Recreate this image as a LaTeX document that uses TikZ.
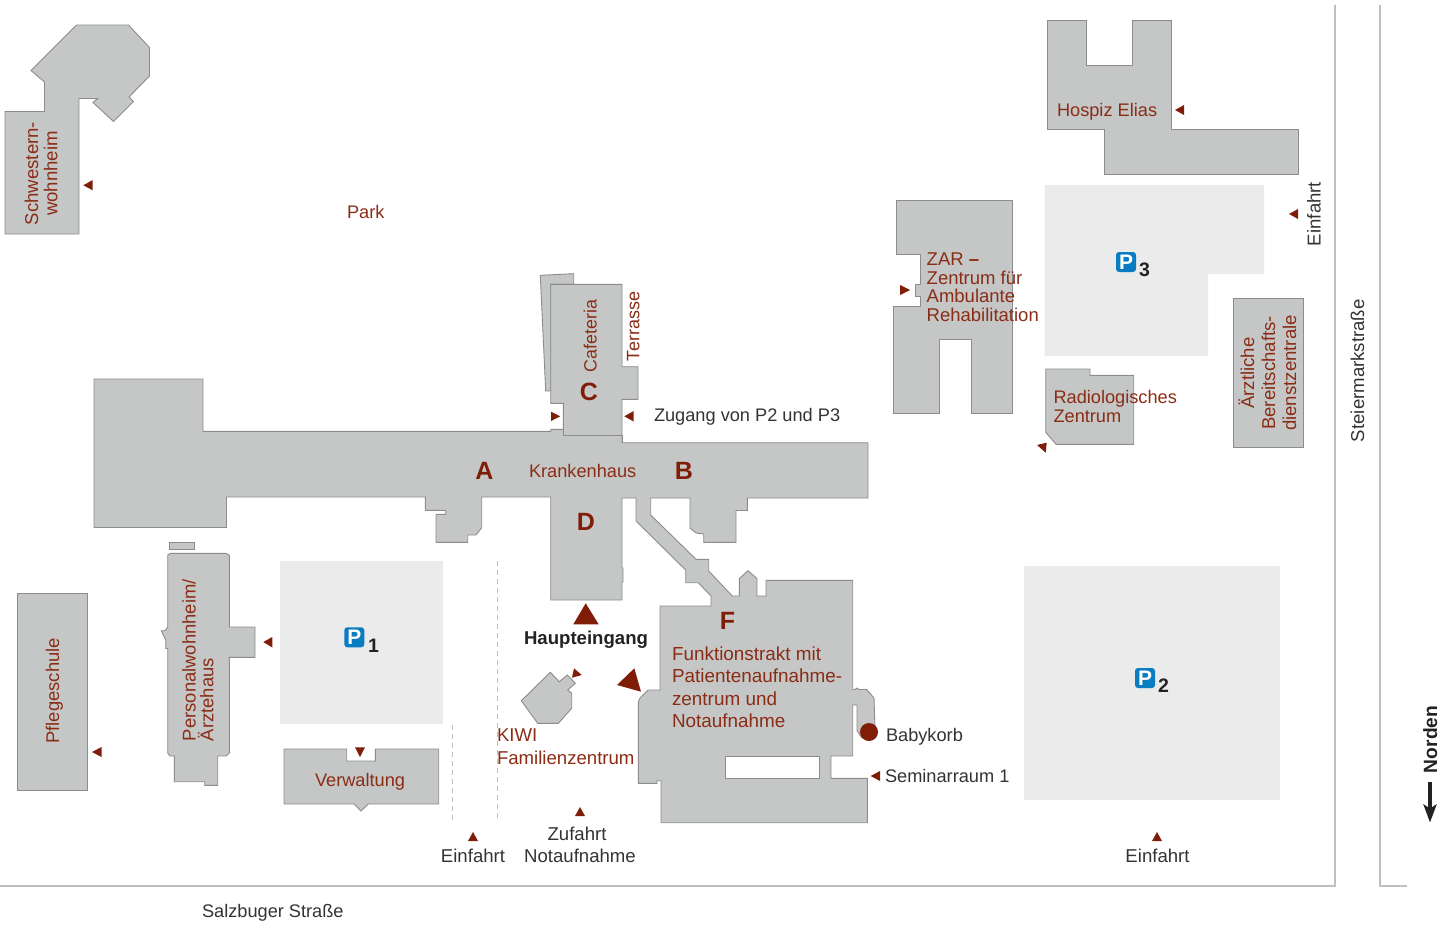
\documentclass[tikz,border=0pt]{standalone}
\usepackage{fontspec}
\setmainfont{Liberation Sans}
\usetikzlibrary{arrows.meta}
\definecolor{maroon}{HTML}{7F1D08}
\definecolor{maroontext}{HTML}{8A2C16}
\definecolor{bldgfill}{HTML}{C5C7C6}
\definecolor{bldgline}{HTML}{8C8C8C}
\definecolor{parkfill}{HTML}{EBEBEB}
\definecolor{roadline}{HTML}{BFBFBF}
\definecolor{ink}{HTML}{222222}
\definecolor{softink}{HTML}{333333}
\definecolor{pblue}{HTML}{0A7CC1}
\tikzset{
  bldg/.style={draw=bldgline,fill=bldgfill,line width=0.9pt,line join=miter},
  parking/.style={fill=parkfill,draw=none},
  pointer/.style={fill=maroon,draw=none},
  road/.style={draw=roadline,line width=2pt},
  laneline/.style={draw=roadline,line width=0.8pt,dash pattern=on 5pt off 4pt},
  txt/.style={inner sep=0pt,outer sep=0pt,anchor=base west,align=left,font=\fontsize{18.2}{18.2}\selectfont},
  redtxt/.style={txt,text=maroontext},
  blacktxt/.style={txt,text=softink},
  vert/.style={rotate=90},
  letter/.style={inner sep=0pt,text=maroon,font=\fontsize{25}{25}\selectfont\bfseries},
  picon/.style={fill=pblue,rounded corners=3pt,minimum width=20pt,minimum height=20pt,inner sep=0pt,text=white,font=\fontsize{21}{21}\selectfont\bfseries},
  pnum/.style={inner sep=0pt,anchor=base west,text=ink,font=\fontsize{19.5}{19.5}\selectfont\bfseries},
}
\begin{document}
\begin{tikzpicture}[x=1pt,y=-1pt]
\useasboundingbox (0,0) rectangle (1453,924);
% parking areas
\fill[parking] (279.7,561) rectangle (443.3,724);
\fill[parking] (1024,566) rectangle (1280,800);
\fill[parking] (1044.5,185) -- (1264,185) -- (1264,274) -- (1208,274) -- (1208,356) -- (1044.5,356) -- cycle;
% roads
\draw[road] (0,886) -- (1335,886) -- (1335,5);
\draw[road] (1380,5) -- (1380,886) -- (1407,886);
\draw[laneline] (452,725) -- (452,822);
\draw[laneline] (497,561) -- (497,822);
% buildings
\draw[bldg] (5,111.5) -- (44.5,111.5) -- (44.5,82) -- (31,70.5) -- (76.5,25) -- (128.5,25) -- (149.5,47.5) -- (149.5,76) -- (129,97) -- (133.5,101.5) -- (113.5,121.5) -- (93,102.5) -- (97.5,98.5) -- (79,98.5) -- (79,234) -- (5,234) -- cycle;
\draw[bldg] (540.3,275.3) -- (573.7,273.7) -- (573.7,284.3) -- (550.7,284.3) -- (550.7,391) -- (545.7,391) -- cycle;
\draw[bldg] (94,379) -- (203,379) -- (203,431.3) -- (550.7,431.3) -- (550.7,429.3) -- (563.3,429.3) -- (563.3,403.3) -- (550.7,403.3) -- (550.7,284.3) -- (622,284.3) -- (622,366.7) -- (638,366.7) -- (638,399.3) -- (622,399.3) -- (622,442.7) -- (868,442.7) -- (868,498) -- (747.3,498) -- (747.3,510.5) -- (736,510.5) -- (736,542.3) -- (703.7,542.3) -- (703.7,534) -- (696,533) -- (690,528) -- (690,498) -- (650.7,498) -- (650.7,515) -- (696,559.3) -- (708.7,559.3) -- (708.7,571) -- (732.3,596) -- (739.3,596) -- (739.3,578.5) -- (748,570.7) -- (757,578.5) -- (757,596) -- (766,596) -- (766,580.3) -- (852.7,580.3) -- (852.7,689.5) -- (855,689.5) -- (857,688) -- (859,689.5) -- (866.7,689.5) -- (874,698) -- (875,730) -- (862,738) -- (857,730.7) -- (857,705) -- (852.7,705) -- (852.7,756) -- (831,756) -- (831,778.3) -- (867.3,778.3) -- (867.3,822.7) -- (661,822.7) -- (661,780.7) -- (657,780.7) -- (657,783.3) -- (638.3,783.3) -- (638.3,702) -- (640,698) -- (648,690) -- (660,690) -- (660,606) -- (711,606) -- (711,596) -- (698.3,582.7) -- (685.7,582.7) -- (685.7,570) -- (636,521) -- (636,498) -- (622,498) -- (622,568) -- (623,568) -- (623,582) -- (622,582) -- (622,600) -- (550.7,600) -- (550.7,497) -- (481.7,497) -- (481.7,527.7) -- (476,535) -- (467.7,535) -- (467.7,542.3) -- (436,542.3) -- (436,514.3) -- (445.7,514.3) -- (445.7,510.3) -- (425.3,510.3) -- (425.3,497) -- (226.5,497) -- (226.5,527.5) -- (94,527.5) -- cycle;
\draw[bldgline,line width=0.9pt] (563.3,429.3) -- (563.3,435.7) -- (622,435.7) -- (622,442.7);
\draw[draw=bldgline,fill=white,line width=0.9pt] (725.7,756) rectangle (819.7,778.3);
\draw[bldg] (169.3,542.3) rectangle (194.3,549);
\draw[bldg] (167.7,555) -- (170.7,553.3) -- (226,553.3) -- (229.3,555.3) -- (229.3,627) -- (255,627) -- (255,657.3) -- (229.3,657.3) -- (229.3,753) -- (226,756) -- (217.7,756) -- (217.7,785.3) -- (204.7,785.3) -- (204.7,781.7) -- (174.3,781.7) -- (174.3,756) -- (170,756) -- (167.7,753) -- (167.7,648.3) -- (165.7,648.3) -- (165.7,640) -- (161.3,630.7) -- (165,630.7) -- (167.7,627) -- cycle;
\draw[bldg] (284,749) -- (346.7,749) -- (346.7,761) -- (375.3,761) -- (375.3,749) -- (438.7,749) -- (438.7,804) -- (368.3,804) -- (361,811) -- (354,804) -- (284,804) -- cycle;
\draw[bldg] (17,593) rectangle (87.5,790);
\draw[bldg] (521.3,700.7) -- (550.3,672.3) -- (559.3,681.7) -- (567.3,675) -- (575.3,683.3) -- (567.7,690) -- (571.7,693.3) -- (571.7,708.3) -- (558.3,723.3) -- (537.7,723.3) -- cycle;
\draw[bldg] (896.3,200.7) -- (1012.3,200.7) -- (1012.3,413.3) -- (971.7,413.3) -- (971.7,339.7) -- (939,339.7) -- (939,413.3) -- (893.7,413.3) -- (893.7,306.7) -- (920.7,306.7) -- (920.7,296.7) -- (915,296.7) -- (915,284.3) -- (920.7,284.3) -- (920.7,254.7) -- (896.3,254.7) -- cycle;
\draw[bldg] (1045.7,369) -- (1090,369) -- (1090,375.3) -- (1133.7,375.3) -- (1133.7,444.3) -- (1056,444.3) -- (1045.7,432.3) -- cycle;
\draw[bldg] (1047,20) -- (1086,20) -- (1086,65) -- (1132,65) -- (1132,20) -- (1171,20) -- (1171,129) -- (1298,129) -- (1298,174) -- (1104,174) -- (1104,129) -- (1047,129) -- cycle;
\draw[bldg] (1233,298) rectangle (1303,447);
% Babykorb dot
\fill[maroon] (869,732) circle (9);
% pointers
\fill[pointer] (585.7,603.3) -- (573.3,624.3) -- (598.7,624.3) -- cycle;
\fill[pointer] (634.3,668.3) -- (617,685) -- (641,691.7) -- cycle;
\fill[pointer] (574,668.3) -- (572,677.7) -- (581.7,675) -- cycle;
\fill[pointer] (83.3,185.3) -- (92.7,180) -- (92.7,190.3) -- cycle;
\fill[pointer] (551,411.7) -- (551,421) -- (560.3,416.3) -- cycle;
\fill[pointer] (624.3,416.3) -- (633.7,411) -- (633.7,421.5) -- cycle;
\fill[pointer] (870.7,776) -- (880,771) -- (880,781) -- cycle;
\fill[pointer] (263.3,642) -- (272.3,637) -- (272.3,647.5) -- cycle;
\fill[pointer] (355,747.3) -- (365,747.3) -- (360,757) -- cycle;
\fill[pointer] (92,752) -- (101.5,747) -- (101.5,757) -- cycle;
\fill[pointer] (900,285) -- (900,295) -- (910,290) -- cycle;
\fill[pointer] (1037,445) -- (1046.7,442.7) -- (1045.7,452.7) -- cycle;
\fill[pointer] (1175,110) -- (1184,105) -- (1184,115) -- cycle;
\fill[pointer] (1289,214) -- (1298,209) -- (1298,219) -- cycle;
\fill[pointer] (468,841) -- (478,841) -- (473,832) -- cycle;
\fill[pointer] (575,816) -- (585,816) -- (580,807) -- cycle;
\fill[pointer] (1152,841) -- (1162,841) -- (1157,832) -- cycle;
% parking icons
\node[picon] (pa) at (354.3,637.3) {P};
\node[pnum] (pan) at (368,652.5) {1};
\node[picon] (pb) at (1145,678) {P};
\node[pnum] (pbn) at (1158,692.5) {2};
\node[picon] (pc) at (1126,262) {P};
\node[pnum] (pcn) at (1139,276.5) {3};
% block letters
\node[letter] (la) at (484.5,471) {A};
\node[letter] (lb) at (684,471) {B};
\node[letter] (lc) at (589,392) {C};
\node[letter] (ld) at (586,521.5) {D};
\node[letter] (lf) at (727.5,621) {F};
% labels, red
\node[redtxt] (park) at (347,218.7) {Park};
\node[redtxt] (kh) at (529,477.7) {Krankenhaus};
\node[redtxt] (hospiz) at (1057,116.7) {Hospiz Elias};
\node[redtxt,font=\fontsize{18.5}{18.6}\selectfont] (zar) at (926.7,321.5) {ZAR \textbf{–}\\Zentrum für\\Ambulante\\Rehabilitation};
\node[redtxt,font=\fontsize{18.2}{19}\selectfont] (rad) at (1053.5,422.4) {Radiologisches\\Zentrum};
\node[redtxt,font=\fontsize{18.9}{22.4}\selectfont] (funk) at (672,727.4) {Funktionstrakt mit\\Patientenaufnahme-\\zentrum und\\Notaufnahme};
\node[redtxt,font=\fontsize{18.6}{22.5}\selectfont] (kiwi) at (497,764.2) {KIWI\\Familienzentrum};
\node[redtxt] (verw) at (315,786.5) {Verwaltung};
\node[redtxt,vert,align=center,anchor=base,font=\fontsize{18.6}{19.3}\selectfont] (schw) at (57.3,173.5) {Schwestern-\\wohnheim};
\node[redtxt,vert,font=\fontsize{18.4}{17.6}\selectfont] (pers) at (213.3,741) {Personalwohnheim/\\Ärztehaus};
\node[redtxt,vert,font=\fontsize{17.8}{18}\selectfont] (caf) at (596.7,372) {Cafeteria};
\node[redtxt,vert,font=\fontsize{18}{18}\selectfont] (terr) at (639.3,361) {Terrasse};
\node[redtxt,vert,font=\fontsize{18.4}{18.4}\selectfont] (pfl) at (59,743.5) {Pflegeschule};
\node[redtxt,vert,align=center,font=\fontsize{18.6}{21}\selectfont,anchor=base] (arzt) at (1296,373) {Ärztliche\\Bereitschafts-\\dienstzentrale};
% labels, black
\node[blacktxt] (zug) at (654,421.7) {Zugang von P2 und P3};
\node[blacktxt,text=ink,font=\fontsize{18.6}{18.6}\selectfont\bfseries] (haupt) at (524,644.5) {Haupteingang};
\node[blacktxt] (baby) at (886,741.7) {Babykorb};
\node[blacktxt] (sem) at (885,782.7) {Seminarraum 1};
\node[blacktxt,align=center,anchor=base,font=\fontsize{18.6}{22}\selectfont] (zuf) at (580,862.7) {Zufahrt\hspace*{6pt}\\Notaufnahme};
\node[blacktxt,anchor=base,font=\fontsize{18.6}{18.6}\selectfont] (ein1) at (473,862.7) {Einfahrt};
\node[blacktxt,anchor=base,font=\fontsize{18.6}{18.6}\selectfont] (ein2) at (1157.5,862.7) {Einfahrt};
\node[blacktxt,vert,font=\fontsize{18.6}{18.6}\selectfont] (ein3) at (1320.5,246) {Einfahrt};
\node[blacktxt,vert,font=\fontsize{18.6}{18.6}\selectfont] (steier) at (1364,442) {Steiermarkstraße};
\node[blacktxt] (salz) at (202,917.7) {Salzbuger Straße};
\node[blacktxt,vert,text=ink,font=\fontsize{19.2}{19.2}\selectfont\bfseries] (norden) at (1437,773) {Norden};
% north arrow
\coordinate (nstart) at (1430,782);
\coordinate (nend) at (1430,822.5);
\draw[ink,line width=3.5pt,-{Stealth[length=18pt,width=13pt,inset=4pt]}] (nstart) -- (nend);
\end{tikzpicture}
\end{document}
